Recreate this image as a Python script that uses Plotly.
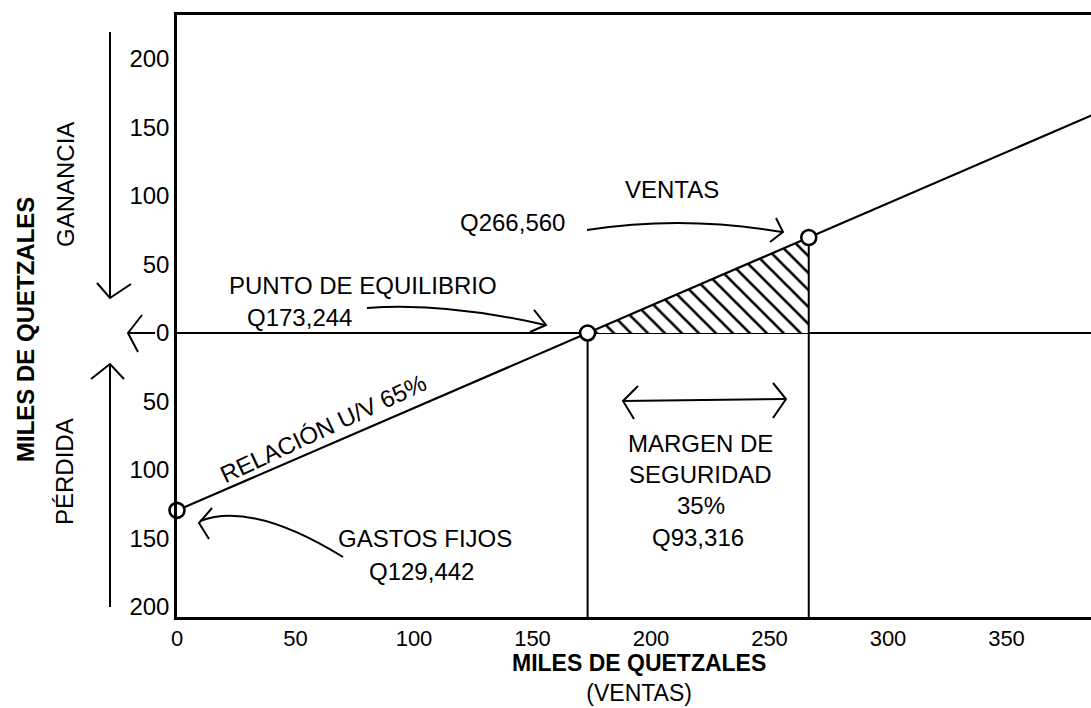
import plotly.graph_objects as go

# ---------------- data (miles de quetzales) ----------------
gastos_fijos = 129.442
punto_equilibrio = 173.244
ventas = 266.560
utilidad_en_ventas = 69.7

linea_ventas = [0, punto_equilibrio, ventas, 400]
linea_utilidad = [-gastos_fijos, 0, utilidad_en_ventas, 169.4]

puntos_x = [0, punto_equilibrio, ventas]
puntos_y = [-gastos_fijos, 0, utilidad_en_ventas]

x_tickvals = [0, 50, 100, 150, 200, 250, 300, 350]
x_ticktext = ["0", "50", "100", "150", "200", "250", "300", "350"]
y_tickvals = [-200, -150, -100, -50, 0, 50, 100, 150, 200]
y_ticktext = ["200", "150", "100", "50", "0", "50", "100", "150", "200"]

X_RANGE = [0, 385.65]
Y_RANGE = [-207.3, 232.1]

# ---------------- layout geometry ----------------
W, H = 1091, 708
ML, MR, MT, MB = 177, 0, 15, 91
FONT = "Arial, 'Liberation Sans', sans-serif"


def P(px, py):
    """pixel position in the page -> paper coordinates"""
    return (px - ML) / (W - ML - MR), (H - MB - py) / (H - MT - MB)


def pt(px, py):
    x, y = P(px, py)
    return f"{x:.5f},{y:.5f}"


def poly(*pts):
    return "M " + " L ".join(pt(*p) for p in pts)


def qcurve(p0, c, p1):
    return f"M {pt(*p0)} Q {pt(*c)} {pt(*p1)}"


fig = go.Figure()

# hatched margin-of-safety triangle
fig.add_trace(go.Scatter(
    x=[punto_equilibrio, ventas, ventas, punto_equilibrio],
    y=[0, utilidad_en_ventas, 0, 0],
    mode="lines", fill="toself", fillcolor="white",
    fillpattern=dict(shape="\\", size=12, solidity=0.22,
                     fgcolor="black", bgcolor="white", fgopacity=1),
    line=dict(width=0), hoverinfo="skip", showlegend=False))

# profit line
fig.add_trace(go.Scatter(
    x=linea_ventas, y=linea_utilidad, mode="lines",
    line=dict(color="black", width=2.2), showlegend=False))

# vertical lines at break-even and sales
for xv, yv in [(punto_equilibrio, 0), (ventas, utilidad_en_ventas)]:
    fig.add_trace(go.Scatter(
        x=[xv, xv], y=[yv, -260], mode="lines",
        line=dict(color="black", width=2), showlegend=False))

# open circles
fig.add_trace(go.Scatter(
    x=puntos_x, y=puntos_y, mode="markers", cliponaxis=False,
    marker=dict(symbol="circle", size=15, color="white",
                line=dict(color="black", width=2.6)),
    showlegend=False))

# ---------------- annotations ----------------
def txt(s, px, py, size=24, bold=False, angle=0, yanchor="middle"):
    x, y = P(px, py)
    if bold:
        s = f"<b>{s}</b>"
    fig.add_annotation(x=x, y=y, xref="paper", yref="paper", text=s,
                       showarrow=False, xanchor="center", yanchor=yanchor,
                       textangle=angle, borderpad=0,
                       font=dict(family=FONT, size=size, color="black"))


txt("PUNTO DE EQUILIBRIO", 363, 285)
txt("Q173,244", 299, 317)
txt("VENTAS", 672, 190)
txt("Q266,560", 512, 222)
txt("MARGEN DE", 700, 443)
txt("SEGURIDAD", 700, 474)
txt("35%", 701, 505)
txt("Q93,316", 698, 537)
txt("GASTOS FIJOS", 425, 538)
txt("Q129,442", 421, 571)
txt("RELACIÓN U/V 65%", 323, 428, angle=-25)
txt("MILES DE QUETZALES", 25, 330, bold=True, angle=-90)
txt("GANANCIA", 66, 185, angle=-90)
txt("PÉRDIDA", 64, 472, angle=-90)
txt("<b>MILES DE QUETZALES</b><br>(VENTAS)", 639, 707, size=23,
    yanchor="bottom")

# ---------------- hand-drawn arrows ----------------
arrow_paths = [
    # GANANCIA (down)
    poly((110, 32), (110, 298)),
    poly((97, 283), (110, 298), (131, 284)),
    # PERDIDA (up)
    poly((110, 607), (110, 364)),
    poly((91, 379), (110, 364), (124, 379)),
    # arrow at zero
    poly((155, 333), (128, 333)),
    poly((142, 315), (128, 333), (138, 352)),
    # punto de equilibrio
    qcurve((367, 308), (445, 302), (545, 325)),
    poly((534, 310), (546, 325), (530, 332)),
    # ventas
    qcurve((587, 230), (683, 215), (782, 232)),
    poly((776, 218), (783, 232), (770, 242)),
    # margen de seguridad (double)
    poly((623, 401), (785, 399)),
    poly((638, 386), (623, 401), (634, 419)),
    poly((773, 383), (786, 399), (773, 418)),
    # gastos fijos
    qcurve((343, 557), (252, 501), (200, 521)),
    poly((212, 508), (199, 523), (209, 539)),
]
for p in arrow_paths:
    fig.add_shape(type="path", path=p, xref="paper", yref="paper",
                  line=dict(color="black", width=2))

fig.update_layout(
    width=W, height=H,
    margin=dict(l=ML, r=MR, t=MT, b=MB, pad=0),
    paper_bgcolor="white", plot_bgcolor="white",
    font=dict(family=FONT, size=24, color="black"),
    xaxis=dict(range=X_RANGE, tickvals=x_tickvals, ticktext=x_ticktext,
               showline=True, linecolor="black", linewidth=2.5, mirror=True,
               ticks="", showgrid=False, zeroline=False,
               tickfont=dict(family=FONT, size=22, color="black")),
    yaxis=dict(range=Y_RANGE, tickvals=y_tickvals, ticktext=y_ticktext,
               showline=True, linecolor="black", linewidth=2.5, mirror=False,
               ticks="", showgrid=False, zeroline=True,
               zerolinecolor="black", zerolinewidth=2,
               tickfont=dict(family=FONT, size=24, color="black")),
    showlegend=False,
)

fig.write_html(
    "out.html",
    config={"displayModeBar": False},
    post_script="document.body.style.margin='0';"
                "document.body.style.overflow='hidden';",
)
